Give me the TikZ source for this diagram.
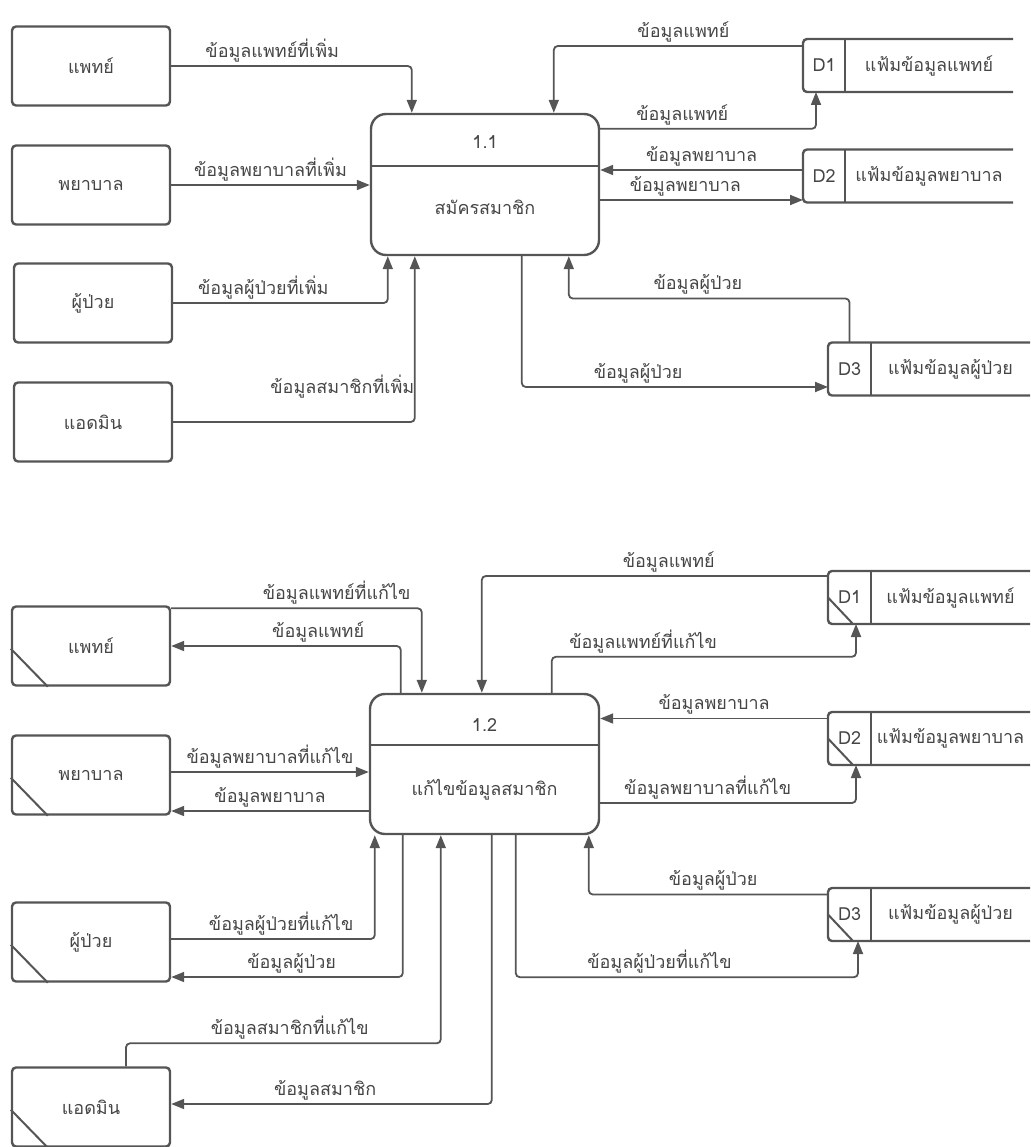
\documentclass[tikz,border=0pt]{standalone}
\usepackage{fontspec}
\setmainfont{Loma}[Script=Thai]
\usepackage{xcolor}
\usepackage{tikz}
\usetikzlibrary{positioning, calc, arrows.meta}

\definecolor{LineGray}{HTML}{555555}
\definecolor{TextGray}{HTML}{454545}

\begin{document}
\begin{tikzpicture}[x=1pt, y=-1pt,
		EntNode/.style={rectangle, draw=LineGray, line width=2.4pt, rounded corners=4pt, minimum width=158pt, minimum height=79pt, text=TextGray, font=\fontsize{18}{22}\selectfont},
		ProcNode/.style={rectangle, draw=LineGray, line width=2.4pt, rounded corners=15pt},
		ProcText/.style={text=TextGray, font=\fontsize{18}{22}\selectfont},
		StoreNode/.style={rectangle, inner sep=0pt, outer sep=0pt, minimum height=53pt, text=TextGray, font=\fontsize{18}{22}\selectfont},
		StoreLine/.style={draw=LineGray, line width=2.4pt, rounded corners=4pt},
		MarkLine/.style={draw=LineGray, line width=2pt},
		FlowLine/.style={draw=LineGray, line width=1.8pt, rounded corners=4pt, -{Triangle[length=13pt, width=10pt]}},
		FlowText/.style={above, inner sep=3pt, text=TextGray, font=\fontsize{18}{22}\selectfont}]

		\useasboundingbox (0,0) rectangle (1030,1147);

		\node[EntNode] (DocA) at (91,66) {แพทย์};
		\node[EntNode] (NurseA) at (91,185) {พยาบาล};
		\node[EntNode] (PatA) at (93,303) {ผู้ป่วย};
		\node[EntNode] (AdminA) at (93,422) {แอดมิน};

		\node[ProcNode, minimum width=228pt, minimum height=141pt] (P1) at (485,184.5) {};
		\node[ProcText] (P1num) at (485,142) {1.1};
		\node[ProcText] (P1name) at (485,207) {สมัครสมาชิก};
		\draw[MarkLine] ($(P1.north west)!0.37!(P1.south west)$) -- ($(P1.north east)!0.37!(P1.south east)$);

		\node[StoreNode, minimum width=42pt] (D1aid) at (824,65.5) {D1};
		\node[StoreNode, minimum width=168pt, right=0pt of D1aid] (D1afile) {แฟ้มข้อมูลแพทย์};
		\node[StoreNode, minimum width=42pt] (D2aid) at (824,176) {D2};
		\node[StoreNode, minimum width=168pt, right=0pt of D2aid] (D2afile) {แฟ้มข้อมูลพยาบาล};
		\node[StoreNode, minimum width=43pt] (D3aid) at (849.5,369) {D3};
		\node[StoreNode, minimum width=159pt, right=0pt of D3aid] (D3afile) {แฟ้มข้อมูลผู้ป่วย};

		\foreach \s/\f in {D1aid/D1afile, D2aid/D2afile, D3aid/D3afile}{
			\draw[StoreLine] (\f.north east) -- (\s.north west) -- (\s.south west) -- (\f.south east);
			\draw[MarkLine] (\s.north east) -- (\s.south east);
		}

		\draw[FlowLine] (DocA.east) -| node[FlowText, pos=0.21]{ข้อมูลแพทย์ที่เพิ่ม} ([xshift=42pt]P1.north west);
		\draw[FlowLine] (NurseA.east) -- node[FlowText]{ข้อมูลพยาบาลที่เพิ่ม} (NurseA.east -| P1.west);
		\draw[FlowLine] (PatA.east) -| node[FlowText, pos=0.21]{ข้อมูลผู้ป่วยที่เพิ่ม} ([xshift=18pt]P1.south west);
		\draw[FlowLine] (AdminA.east) -| node[FlowText, pos=0.35, yshift=20pt]{ข้อมูลสมาชิกที่เพิ่ม} ([xshift=45pt]P1.south west);

		\draw[FlowLine] ([yshift=-7pt]D1aid.north west) -| node[FlowText, pos=0.24]{ข้อมูลแพทย์} ([xshift=184pt]P1.north west);
		\draw[FlowLine] ([yshift=-16pt]P1.north east) -| node[FlowText, pos=0.19]{ข้อมูลแพทย์} ([xshift=13pt]D1aid.south west);
		\coordinate (D2ain) at ([yshift=6pt]D2aid.west);
		\coordinate (D2aout) at ([yshift=-24pt]D2aid.west);
		\draw[FlowLine] (D2ain) -- node[FlowText]{ข้อมูลพยาบาล} (D2ain -| P1.east);
		\draw[FlowLine] (D2aout -| P1.east) -- node[FlowText, pos=0.42]{ข้อมูลพยาบาล} (D2aout);
		\draw[FlowLine] (D3aid.north) -- ++(0,-44) -| node[FlowText, pos=0.27]{ข้อมูลผู้ป่วย} ([xshift=199pt]P1.south west);
		\coordinate (D3ain) at ([yshift=-18pt]D3aid.west);
		\draw[FlowLine] ([xshift=152pt]P1.south west) |- node[FlowText, pos=0.69]{ข้อมูลผู้ป่วย} (D3ain);

		\node[EntNode] (DocB) at (91,646) {แพทย์};
		\node[EntNode] (NurseB) at (91,775) {พยาบาล};
		\node[EntNode] (PatB) at (91,942) {ผู้ป่วย};
		\node[EntNode] (AdminB) at (91,1107) {แอดมิน};
		\foreach \e in {DocB, NurseB, PatB, AdminB}
			\draw[MarkLine] ([yshift=38pt]\e.south west) -- ([xshift=37pt]\e.south west);

		\node[ProcNode, minimum width=229pt, minimum height=140pt] (P2) at (484.5,764) {};
		\node[ProcText] (P2num) at (484.5,725) {1.2};
		\node[ProcText] (P2name) at (484.5,790) {แก้ไขข้อมูลสมาชิก};
		\draw[MarkLine] ($(P2.north west)!0.37!(P2.south west)$) -- ($(P2.north east)!0.37!(P2.south east)$);

		\node[StoreNode, minimum width=43pt] (D1bid) at (849.5,597.5) {D1};
		\node[StoreNode, minimum width=159pt, right=0pt of D1bid] (D1bfile) {แฟ้มข้อมูลแพทย์};
		\node[StoreNode, minimum width=43pt] (D2bid) at (849.5,738.5) {D2};
		\node[StoreNode, minimum width=159pt, right=0pt of D2bid] (D2bfile) {แฟ้มข้อมูลพยาบาล};
		\node[StoreNode, minimum width=43pt] (D3bid) at (849.5,914.5) {D3};
		\node[StoreNode, minimum width=159pt, right=0pt of D3bid] (D3bfile) {แฟ้มข้อมูลผู้ป่วย};

		\foreach \s/\f in {D1bid/D1bfile, D2bid/D2bfile, D3bid/D3bfile}{
			\draw[StoreLine] (\f.north east) -- (\s.north west) -- (\s.south west) -- (\f.south east);
			\draw[MarkLine] (\s.north east) -- (\s.south east);
			\draw[MarkLine] (\s.west) -- ([xshift=25pt]\s.south west);
		}

		\coordinate (DocBout) at ([yshift=-3pt]DocB.north east);
		\draw[FlowLine] (DocBout) -| node[FlowText, pos=0.33]{ข้อมูลแพทย์ที่แก้ไข} ([xshift=53pt]P2.north west);
		\draw[FlowLine] ([xshift=32pt]P2.north west) |- node[FlowText, pos=0.68]{ข้อมูลแพทย์} (DocB.east);
		\coordinate (NurseBout) at ([yshift=3pt]NurseB.east);
		\coordinate (NurseBin) at ([yshift=-36pt]NurseB.east);
		\draw[FlowLine] (NurseBout) -- node[FlowText]{ข้อมูลพยาบาลที่แก้ไข} (NurseBout -| P2.west);
		\draw[FlowLine] (NurseBin -| P2.west) -- node[FlowText]{ข้อมูลพยาบาล} (NurseBin);
		\draw[FlowLine] ([yshift=3pt]PatB.east) -| node[FlowText, pos=0.27]{ข้อมูลผู้ป่วยที่แก้ไข} ([xshift=6pt]P2.south west);
		\draw[FlowLine] ([xshift=34pt]P2.south west) |- node[FlowText, pos=0.74]{ข้อมูลผู้ป่วย} ([yshift=-35pt]PatB.east);
		\draw[FlowLine] ([xshift=35pt]AdminB.north) -- ++(0,-23) -| node[FlowText, pos=0.26]{ข้อมูลสมาชิกที่แก้ไข} ([xshift=72pt]P2.south west);
		\draw[FlowLine] ([xshift=123pt]P2.south west) |- node[FlowText, pos=0.76]{ข้อมูลสมาชิก} ([yshift=3pt]AdminB.east);

		\draw[FlowLine] ([yshift=-5pt]D1bid.north west) -| node[FlowText, pos=0.23]{ข้อมูลแพทย์} ([xshift=113pt]P2.north west);
		\draw[FlowLine] ([xshift=183pt]P2.north west) -- ++(0,-36) -| node[FlowText, pos=0.15]{ข้อมูลแพทย์ที่แก้ไข} ([xshift=28pt]D1bid.south west);
		\coordinate (D2bin) at ([yshift=20pt]D2bid.west);
		\draw[FlowLine] (D2bin) -- node[FlowText]{ข้อมูลพยาบาล} (D2bin -| P2.east);
		\draw[FlowLine] ([yshift=-39pt]P2.east) -| node[FlowText, pos=0.21]{ข้อมูลพยาบาลที่แก้ไข} ([xshift=28pt]D2bid.south west);
		\coordinate (D3bin) at ([yshift=20pt]D3bid.west);
		\draw[FlowLine] (D3bin) -| node[FlowText, pos=0.24]{ข้อมูลผู้ป่วย} ([xshift=220pt]P2.south west);
		\draw[FlowLine] ([xshift=147pt]P2.south west) -- ++(0,142) -| node[FlowText, pos=0.21]{ข้อมูลผู้ป่วยที่แก้ไข} ([xshift=30pt]D3bid.south west);
\end{tikzpicture}
\end{document}
